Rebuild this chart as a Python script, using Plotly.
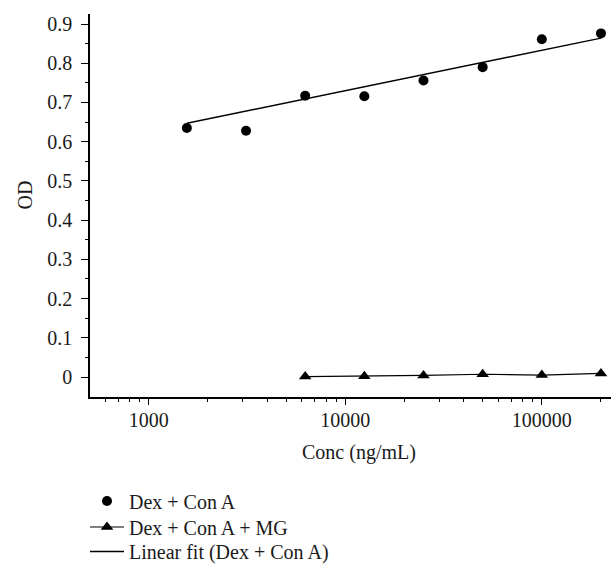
import plotly.graph_objects as go

# ---- data ----
conc_dex = [1562.5, 3125, 6250, 12500, 25000, 50000, 100000, 200000]
od_dex = [0.635, 0.628, 0.717, 0.716, 0.756, 0.790, 0.861, 0.876]

conc_mg = [6250, 12500, 25000, 50000, 100000, 200000]
od_mg = [0.001, 0.002, 0.004, 0.007, 0.005, 0.009]

fit_conc = [1562.5, 200000]
fit_od = [0.647, 0.864]

x_tickvals = [1000, 10000, 100000]
x_ticktext = ["1000", "10000", "100000"]
y_tickvals = [0, 0.1, 0.2, 0.3, 0.4, 0.5, 0.6, 0.7, 0.8, 0.9]
y_ticktext = ["0", "0.1", "0.2", "0.3", "0.4", "0.5", "0.6", "0.7", "0.8", "0.9"]

FONT = "Liberation Serif"
INK = "#1a1a1a"
W, H = 614, 565

x_minor = [m * 10 ** e for e in range(2, 6) for m in range(2, 10) if 500 <= m * 10 ** e <= 200000]
y_minor = [0.05 + 0.1 * i for i in range(9)]

fig = go.Figure()
fig.add_trace(go.Scatter(
    x=conc_dex, y=od_dex, mode="markers", name="Dex + Con A", legend="legend",
    marker=dict(symbol="circle", size=10, color="black"), cliponaxis=False,
))
fig.add_trace(go.Scatter(
    x=conc_mg, y=od_mg, mode="lines+markers", name="Dex + Con A + MG", legend="legend2",
    line=dict(color="black", width=1.2),
    marker=dict(symbol="triangle-up", size=11, color="black"), cliponaxis=False,
))
fig.add_trace(go.Scatter(
    x=fit_conc, y=fit_od, mode="lines", name="Linear fit (Dex + Con A)", legend="legend3",
    line=dict(color="black", width=1.5), cliponaxis=False,
))


def leg(row_y):
    return dict(
        xref="container", yref="container",
        x=85 / W, y=1 - row_y / H, xanchor="left", yanchor="middle",
        font=dict(family=FONT, size=20, color=INK),
        bgcolor="rgba(0,0,0,0)", itemwidth=34,
    )


fig.update_layout(
    width=W, height=H,
    margin=dict(l=90, r=3, t=14, b=168, autoexpand=False),
    paper_bgcolor="white", plot_bgcolor="white",
    font=dict(family=FONT, size=20, color=INK),
    showlegend=True,
    legend=leg(501), legend2=leg(527), legend3=leg(551.5),
    xaxis=dict(
        type="log", range=[2.701, 5.352], automargin=False,
        showline=True, linecolor="black", linewidth=1.5,
        showgrid=False, zeroline=False,
        ticks="outside", ticklen=6, tickwidth=1.2, tickcolor="black",
        tickvals=x_tickvals, ticktext=x_ticktext,
        minor=dict(tickvals=x_minor, ticks="outside", ticklen=3.5, tickwidth=1.2,
                   tickcolor="black", showgrid=False),
        tickfont=dict(family=FONT, size=20, color=INK),
        ticklabelstandoff=-2,
    ),
    yaxis=dict(
        range=[-0.051, 0.9255], automargin=False,
        showline=True, linecolor="black", linewidth=1.5,
        showgrid=False, zeroline=False,
        ticks="outside", ticklen=7, tickwidth=1.2, tickcolor="black",
        tickvals=y_tickvals, ticktext=y_ticktext,
        minor=dict(tickvals=y_minor, ticks="outside", ticklen=3.5, tickwidth=1.2,
                   tickcolor="black", showgrid=False),
        tickfont=dict(family=FONT, size=20, color=INK),
        ticklabelstandoff=5,
    ),
    annotations=[
        dict(text="Conc (ng/mL)", xref="paper", yref="paper", x=0.5166, y=-0.146,
             xanchor="center", yanchor="middle", showarrow=False,
             font=dict(family=FONT, size=20, color=INK)),
        dict(text="OD", xref="paper", yref="paper", x=-0.124, y=0.527,
             xanchor="center", yanchor="middle", showarrow=False, textangle=-90,
             font=dict(family=FONT, size=20, color=INK)),
    ],
)

fig.write_html(
    "out.html",
    config={"displayModeBar": False},
    post_script="document.body.style.margin='0';document.body.style.overflow='hidden';",
)
